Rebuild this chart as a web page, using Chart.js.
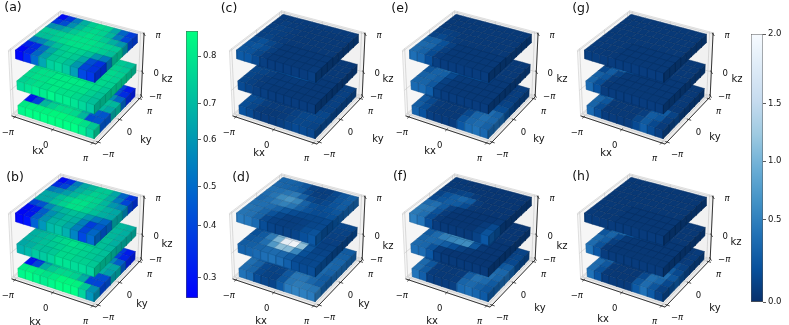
<!DOCTYPE html>
<html><head><meta charset="utf-8">
<style>html,body{margin:0;background:#fff}#fig{position:relative;width:789px;height:325px;overflow:hidden}canvas{position:absolute}</style>
<script src="https://cdn.jsdelivr.net/npm/chart.js@4"></script></head>
<body><div id="fig"></div>
<script>
// rows run from the back edge (ky = pi) to the front edge (ky = -pi), columns from kx = -pi to kx = pi
const aTop=[
[.28,.38,.55,.68,.75,.78,.76,.66,.5,.4],[.38,.44,.6,.7,.76,.78,.76,.7,.55,.42],[.6,.62,.68,.74,.78,.8,.78,.74,.68,.62],[.74,.74,.76,.78,.8,.8,.8,.78,.76,.74],
[.72,.72,.75,.78,.8,.8,.8,.78,.75,.72],[.55,.58,.66,.72,.76,.78,.76,.72,.62,.55],[.33,.36,.52,.66,.74,.76,.74,.66,.44,.37],[.27,.35,.5,.64,.73,.75,.72,.62,.42,.38]];
const aMid=[
[.72,.74,.76,.78,.78,.78,.78,.76,.74,.72],[.74,.76,.78,.78,.8,.8,.78,.78,.76,.74],[.76,.78,.78,.8,.8,.8,.8,.78,.78,.76],[.78,.78,.8,.82,.82,.82,.82,.8,.78,.76],
[.78,.8,.8,.82,.82,.82,.82,.8,.78,.76],[.78,.8,.8,.82,.82,.82,.82,.8,.78,.74],[.78,.8,.8,.82,.82,.82,.8,.8,.76,.73],[.76,.78,.8,.8,.82,.8,.8,.78,.75,.72]];
const aBot=[
[.42,.48,.6,.7,.74,.76,.7,.6,.42,.32],[.5,.55,.66,.72,.76,.76,.72,.62,.44,.36],[.62,.66,.7,.74,.78,.78,.74,.7,.6,.5],[.72,.72,.74,.76,.78,.78,.76,.74,.72,.7],
[.58,.62,.7,.74,.76,.78,.76,.74,.7,.66],[.28,.4,.62,.72,.76,.78,.76,.66,.48,.46],[.3,.42,.7,.76,.8,.8,.78,.7,.44,.46],[.82,.84,.84,.84,.85,.85,.84,.84,.8,.74]];
const bTop=[
[.28,.36,.55,.66,.7,.74,.74,.66,.5,.38],[.36,.42,.58,.68,.72,.76,.74,.68,.55,.42],[.55,.58,.64,.7,.76,.78,.76,.7,.62,.58],[.66,.66,.72,.76,.8,.8,.76,.72,.68,.66],
[.66,.66,.72,.76,.8,.8,.76,.72,.68,.66],[.42,.46,.58,.66,.7,.72,.7,.62,.55,.5],[.28,.32,.48,.6,.66,.7,.68,.56,.4,.46],[.27,.3,.48,.6,.68,.7,.66,.56,.42,.5]];
const bMid=[
[.68,.7,.72,.74,.74,.74,.74,.72,.7,.68],[.68,.7,.72,.74,.76,.76,.74,.72,.7,.68],[.68,.7,.74,.76,.78,.78,.76,.74,.7,.68],[.68,.7,.74,.78,.8,.8,.78,.74,.72,.68],
[.68,.7,.74,.78,.8,.8,.78,.76,.72,.7],[.68,.7,.72,.76,.78,.8,.78,.76,.74,.72],[.68,.7,.72,.74,.76,.78,.78,.76,.74,.72],[.66,.68,.72,.72,.74,.78,.78,.76,.76,.74]];
const bBot=[
[.42,.46,.58,.66,.7,.72,.68,.58,.4,.32],[.48,.52,.62,.68,.72,.72,.7,.6,.42,.34],[.6,.62,.68,.72,.74,.76,.72,.68,.58,.48],[.68,.7,.72,.74,.76,.76,.74,.72,.68,.66],
[.56,.6,.68,.72,.74,.76,.74,.72,.68,.64],[.27,.36,.6,.7,.74,.76,.74,.64,.44,.44],[.3,.42,.68,.74,.78,.78,.76,.68,.42,.42],[.82,.84,.82,.8,.82,.85,.85,.84,.74,.6]];
const cTop=[
[.1,.1,.1,.1,.1,.1,.1,.1,.1,.1],[.1,.12,.1,.1,.08,.08,.08,.08,.08,.1],[.12,.14,.12,.1,.08,.08,.08,.08,.08,.08],[.14,.14,.12,.1,.08,.08,.08,.08,.08,.08],
[.14,.16,.12,.1,.08,.08,.08,.08,.08,.08],[.22,.26,.18,.12,.08,.08,.08,.08,.08,.08],[.28,.3,.22,.12,.08,.08,.08,.08,.08,.08],[.3,.28,.18,.1,.08,.08,.08,.08,.08,.1]];
const cMid=[
[.08,.08,.1,.1,.1,.1,.1,.08,.08,.08],[.08,.1,.12,.12,.12,.12,.1,.08,.08,.08],[.1,.12,.14,.16,.14,.12,.1,.08,.08,.08],[.12,.18,.2,.22,.24,.26,.22,.12,.08,.08],
[.12,.18,.18,.18,.24,.28,.22,.12,.08,.08],[.18,.16,.12,.1,.1,.1,.1,.08,.08,.08],[.18,.14,.1,.1,.1,.1,.08,.08,.08,.08],[.18,.14,.1,.1,.08,.08,.08,.08,.08,.08]];
const cBot=[
[.12,.12,.1,.1,.1,.1,.1,.1,.12,.14],[.12,.12,.1,.1,.1,.1,.1,.1,.12,.14],[.12,.12,.1,.1,.1,.1,.1,.1,.12,.14],[.18,.22,.16,.12,.1,.1,.1,.1,.12,.14],
[.18,.24,.16,.12,.1,.1,.1,.1,.12,.14],[.22,.18,.12,.1,.1,.1,.12,.16,.18,.18],[.24,.2,.12,.1,.1,.1,.14,.18,.2,.18],[.24,.18,.1,.08,.08,.1,.14,.18,.18,.16]];
const dTop=[
[.42,.42,.38,.3,.15,.12,.12,.2,.3,.38],[.45,.42,.4,.35,.2,.12,.12,.18,.3,.36],[.5,.5,.55,.6,.4,.2,.15,.2,.28,.35],[.48,.55,.72,.8,.68,.4,.25,.22,.25,.3],
[.45,.5,.6,.65,.55,.38,.28,.22,.22,.25],[.5,.5,.48,.4,.3,.22,.18,.18,.18,.2],[.55,.52,.42,.28,.18,.12,.12,.14,.18,.2],[.55,.52,.42,.2,.14,.12,.12,.14,.22,.28]];
const dMid=[
[.3,.3,.35,.4,.4,.35,.25,.2,.18,.18],[.3,.32,.4,.5,.55,.45,.25,.18,.15,.15],[.28,.35,.45,.6,.7,.5,.25,.15,.14,.14],[.25,.35,.55,.8,1.1,1.0,.5,.2,.13,.13],
[.24,.32,.6,1.1,1.6,1.7,1.0,.25,.14,.15],[.26,.34,.6,1.1,1.9,2,1.2,.3,.16,.17],[.32,.36,.5,.85,1.2,1.15,.7,.25,.18,.2],[.36,.38,.42,.46,.48,.44,.34,.2,.18,.2]];
const dBot=[
[.3,.3,.3,.3,.3,.3,.3,.3,.35,.35],[.32,.32,.32,.32,.32,.32,.32,.34,.38,.38],[.34,.34,.34,.34,.34,.34,.36,.4,.42,.42],[.4,.38,.32,.28,.28,.32,.42,.48,.46,.42],
[.42,.38,.28,.24,.24,.3,.46,.5,.46,.4],[.48,.34,.2,.16,.18,.3,.54,.54,.42,.34],[.5,.4,.2,.15,.16,.32,.56,.56,.44,.36],[.48,.42,.2,.15,.14,.3,.55,.6,.58,.55]];
const eTop=[
[.08,.08,.08,.08,.08,.08,.08,.08,.08,.08],[.08,.08,.08,.08,.08,.08,.08,.08,.08,.08],[.08,.08,.08,.08,.08,.08,.08,.08,.08,.08],[.12,.14,.12,.08,.08,.08,.08,.08,.08,.08],
[.16,.2,.14,.1,.08,.08,.08,.08,.08,.08],[.38,.4,.26,.14,.08,.08,.08,.08,.08,.08],[.46,.44,.26,.12,.08,.08,.08,.08,.08,.08],[.46,.4,.22,.1,.08,.08,.08,.08,.08,.08]];
const eMid=[
[.08,.08,.08,.08,.08,.08,.08,.08,.08,.08],[.08,.1,.1,.1,.08,.08,.08,.08,.08,.08],[.1,.14,.16,.14,.1,.08,.08,.08,.08,.08],[.2,.42,.5,.38,.2,.14,.14,.1,.08,.08],
[.22,.44,.5,.34,.2,.2,.22,.14,.08,.08],[.3,.4,.38,.2,.1,.1,.08,.08,.08,.08],[.4,.42,.36,.14,.08,.08,.08,.08,.08,.08],[.42,.42,.32,.12,.08,.08,.08,.08,.08,.08]];
const eBot=[
[.08,.08,.08,.08,.08,.08,.08,.08,.1,.12],[.08,.08,.08,.08,.08,.08,.08,.08,.1,.12],[.08,.08,.08,.08,.08,.08,.08,.08,.1,.12],[.1,.1,.1,.08,.08,.08,.08,.1,.14,.16],
[.12,.1,.1,.08,.08,.08,.1,.16,.22,.22],[.2,.14,.1,.08,.08,.08,.16,.38,.48,.4],[.32,.2,.1,.08,.08,.08,.2,.42,.5,.44],[.36,.24,.1,.08,.08,.08,.28,.44,.48,.4]];
const fTop=[
[.08,.08,.06,.06,.06,.06,.06,.06,.06,.06],[.08,.08,.08,.06,.06,.06,.06,.06,.06,.06],[.1,.12,.16,.18,.1,.06,.06,.06,.06,.06],[.16,.26,.36,.42,.34,.1,.06,.06,.06,.06],
[.2,.3,.36,.34,.22,.08,.06,.06,.06,.06],[.46,.5,.34,.14,.08,.06,.06,.06,.06,.08],[.58,.56,.28,.1,.06,.06,.06,.06,.1,.2],[.58,.5,.22,.08,.06,.06,.06,.06,.12,.28]];
const fMid=[
[.06,.06,.06,.06,.06,.06,.06,.06,.06,.06],[.08,.1,.12,.12,.1,.08,.06,.06,.06,.06],[.12,.22,.3,.32,.24,.14,.08,.06,.06,.06],[.2,.34,.5,.58,.56,.42,.16,.06,.06,.06],
[.28,.44,.66,.76,.74,.72,.32,.08,.06,.06],[.34,.46,.62,.68,.72,.74,.3,.08,.06,.06],[.42,.46,.44,.36,.24,.14,.08,.06,.06,.06],[.46,.44,.28,.1,.06,.06,.06,.06,.06,.06]];
const fBot=[
[.08,.08,.08,.08,.08,.08,.08,.1,.14,.16],[.08,.08,.08,.08,.08,.08,.08,.1,.14,.18],[.08,.08,.08,.08,.08,.08,.08,.12,.16,.2],[.12,.1,.08,.08,.08,.08,.1,.18,.3,.36],
[.14,.1,.08,.08,.08,.08,.14,.3,.46,.44],[.26,.16,.08,.08,.08,.1,.3,.5,.52,.42],[.46,.3,.1,.08,.08,.1,.36,.52,.46,.34],[.5,.34,.1,.08,.08,.1,.42,.46,.38,.3]];
const gTop=[
[.08,.08,.08,.08,.08,.08,.08,.08,.08,.08],[.08,.08,.08,.08,.08,.08,.08,.08,.08,.08],[.08,.08,.08,.08,.08,.08,.08,.08,.08,.08],[.08,.08,.08,.08,.08,.08,.08,.08,.08,.08],
[.08,.08,.08,.08,.08,.08,.08,.08,.08,.08],[.09,.09,.08,.08,.08,.08,.08,.08,.08,.08],[.1,.09,.08,.08,.08,.08,.08,.08,.08,.08],[.1,.09,.08,.08,.08,.08,.08,.08,.08,.08]];
const gMid=[
[.08,.08,.08,.08,.08,.08,.08,.08,.08,.08],[.08,.08,.08,.08,.08,.08,.08,.08,.08,.08],[.08,.1,.14,.16,.12,.08,.08,.08,.08,.08],[.08,.22,.5,.3,.12,.08,.08,.08,.08,.08],
[.1,.3,.44,.18,.1,.08,.08,.08,.08,.08],[.2,.36,.16,.08,.08,.08,.08,.08,.08,.08],[.38,.3,.1,.08,.08,.08,.08,.08,.08,.08],[.42,.24,.08,.08,.08,.08,.08,.08,.08,.08]];
const gBot=[
[.08,.08,.08,.08,.08,.08,.08,.08,.08,.08],[.08,.08,.08,.08,.08,.08,.08,.08,.08,.08],[.08,.08,.08,.08,.08,.08,.08,.08,.08,.08],[.08,.18,.36,.42,.42,.36,.24,.14,.1,.08],
[.1,.32,.46,.36,.3,.24,.16,.1,.08,.08],[.26,.4,.12,.08,.08,.08,.1,.3,.34,.16],[.42,.3,.08,.08,.08,.08,.12,.36,.3,.12],[.42,.22,.08,.08,.08,.08,.18,.34,.2,.1]];
const hTop=[
[.07,.07,.07,.07,.07,.07,.07,.07,.07,.07],[.07,.07,.07,.07,.07,.07,.07,.07,.07,.07],[.07,.07,.07,.07,.07,.07,.07,.07,.07,.07],[.07,.07,.07,.07,.07,.07,.07,.07,.07,.07],
[.07,.07,.07,.07,.07,.07,.07,.07,.07,.07],[.08,.08,.07,.07,.07,.07,.07,.07,.07,.07],[.09,.08,.07,.07,.07,.07,.07,.07,.07,.07],[.09,.08,.07,.07,.07,.07,.07,.07,.07,.07]];
const hMid=[
[.07,.07,.07,.07,.07,.07,.07,.07,.07,.07],[.07,.08,.1,.1,.08,.07,.07,.07,.07,.07],[.08,.12,.24,.3,.2,.1,.07,.07,.07,.07],[.12,.34,.56,.44,.28,.12,.07,.07,.07,.07],
[.14,.42,.5,.28,.14,.08,.07,.07,.07,.07],[.3,.42,.2,.08,.07,.07,.07,.07,.07,.07],[.46,.36,.12,.07,.07,.07,.07,.07,.07,.07],[.48,.28,.08,.07,.07,.07,.07,.07,.07,.07]];
const hBot=[
[.07,.07,.07,.07,.07,.07,.07,.07,.07,.1],[.07,.07,.07,.07,.07,.07,.07,.07,.08,.1],[.07,.07,.07,.07,.07,.07,.07,.07,.08,.1],[.08,.24,.44,.5,.5,.46,.4,.3,.2,.14],
[.12,.36,.5,.38,.34,.34,.32,.34,.34,.2],[.3,.42,.14,.07,.07,.07,.14,.44,.5,.3],[.46,.32,.08,.07,.07,.07,.2,.5,.42,.2],[.48,.26,.08,.07,.07,.07,.3,.48,.3,.14]];

const winterStops=['#0000ff','#00ff80'];
const blueStops=['#08306b','#08519c','#2171b5','#4292c6','#6baed6','#9ecae1','#c6dbef','#deebf7','#f7fbff'];
const winterRange=[.255,.856];
const blueRange=[0,2];
// the colour bars in the picture have unevenly spaced ticks, so each label has its own height on the bar (0 bottom, 1 top)
const winterTicks=['0.3','0.4','0.5','0.6','0.7','0.8'];
const winterTickAt=[.075,.27,.416,.592,.727,.906];
const blueTicks=['0.0','0.5','1.0','1.5','2.0'];
const blueTickAt=[0,.306,.526,.739,1];
const tickNames=['\u2212\u03c0','0','\u03c0'];
const kTicks=[.04,.5,.96];
const zTicks=[.02,.4,.98];
const zSlabs=[[.02,.15],[.40,.53],[.86,.99]];

// dx, dy shift the whole panel, the name and axis titles are placed in panel pixels
const panels=[
{name:'(a)',dx:0,dy:0,nameAt:[13,8],kx:[38,151],ky:[146,140],kz:[167,79],map:'w',layers:[aBot,aMid,aTop]},
{name:'(b)',dx:0,dy:163,nameAt:[15,15],kx:[35,159],ky:[142,141],kz:[167,81],map:'w',layers:[bBot,bMid,bTop]},
{name:'(c)',dx:220.5,dy:0,nameAt:[8,9],kx:[38,153],ky:[157,139],kz:[167,79],map:'b',layers:[cBot,cMid,cTop]},
{name:'(d)',dx:220.5,dy:163,nameAt:[20,15],kx:[40,158],ky:[143,141],kz:[167,83],map:'b',layers:[dBot,dMid,dTop]},
{name:'(e)',dx:394,dy:0,nameAt:[6,9],kx:[36,151],ky:[145,139],kz:[168,79],map:'b',layers:[eBot,eMid,eTop]},
{name:'(f)',dx:394,dy:163,nameAt:[6,14],kx:[38,158],ky:[146,145],kz:[168,83],map:'b',layers:[fBot,fMid,fTop]},
{name:'(g)',dx:569,dy:0,nameAt:[12,9],kx:[37,153],ky:[146,137],kz:[168,79],map:'b',layers:[gBot,gMid,gTop]},
{name:'(h)',dx:569,dy:163,nameAt:[12,14],kx:[34,156],ky:[146,145],kz:[167,79],map:'b',layers:[hBot,hMid,hTop]},
];

const K=97,el=31*Math.PI/180,az=-60*Math.PI/180,dist=8.75,M=.05,ZH=.78,CX=77.5,CY=74.5;
const FONT='"DejaVu Sans"';
function proj(x,y,z){
  const px=x-.5,py=y-.5,pz=(z-.5)*ZH;
  const u=[-Math.sin(az),Math.cos(az)],v=[-Math.cos(az)*Math.sin(el),-Math.sin(az)*Math.sin(el),Math.cos(el)],w=[Math.cos(az)*Math.cos(el),Math.sin(az)*Math.cos(el),Math.sin(el)];
  const d=dist-(px*w[0]+py*w[1]+pz*w[2]);
  return {x:(px*u[0]+py*u[1])*dist/d,y:(px*v[0]+py*v[1]+pz*v[2])*dist/d};
}
function hex(h){return [1,3,5].map(i=>parseInt(h.slice(i,i+2),16));}
function cmap(stops,range,v){
  const t=Math.min(1,Math.max(0,(v-range[0])/(range[1]-range[0])))*(stops.length-1),i=Math.min(stops.length-2,Math.floor(t)),a=hex(stops[i]),b=hex(stops[i+1]);
  return a.map((c,k)=>c+(b[k]-c)*(t-i));
}
function css(c,f){return `rgb(${c.map(a=>Math.min(255,Math.round(a*f))).join(',')})`;}
function poly(ds,pts,c,f){ds.push({data:[...pts.map(p=>proj(...p)),proj(...pts[0])],showLine:true,pointRadius:0,borderWidth:.5,fill:'shape',backgroundColor:css(c,f),borderColor:css(c,f*.84)});}
function seg(ds,a,b,color,w){ds.push({data:[proj(...a),proj(...b)],showLine:true,pointRadius:0,borderWidth:w,borderColor:color,fill:false});}

function buildPanel(p){
  const ds=[];
  poly(ds,[[0,0,0],[1,0,0],[1,1,0],[0,1,0]],[236,236,236],1);
  poly(ds,[[0,0,0],[0,1,0],[0,1,1],[0,0,1]],[246,246,246],1);
  poly(ds,[[0,1,0],[1,1,0],[1,1,1],[0,1,1]],[241,241,241],1);
  ds.forEach(d=>{d.borderColor='#d8d8d8';d.borderWidth=.8;});
  const grid='#c4c4c4';
  kTicks.forEach(f=>{
    seg(ds,[f,0,0],[f,1,0],grid,.6);seg(ds,[f,1,0],[f,1,1],grid,.6);
    seg(ds,[0,f,0],[1,f,0],grid,.6);seg(ds,[0,f,0],[0,f,1],grid,.6);
  });
  zTicks.forEach(f=>{seg(ds,[0,0,f],[0,1,f],grid,.6);seg(ds,[0,1,f],[1,1,f],grid,.6);});
  seg(ds,[0,0,0],[1,0,0],'#222',.9);seg(ds,[1,0,0],[1,1,0],'#222',.9);seg(ds,[1,1,0],[1,1,1],'#222',.9);
  kTicks.forEach(f=>{seg(ds,[f,-.03,0],[f,.02,0],'#222',.8);seg(ds,[1.03,f,0],[.98,f,0],'#222',.8);});
  zTicks.forEach(f=>seg(ds,[1.03,.97,f],[.98,1.02,f],'#222',.8));
  const stops=p.map=='w'?winterStops:blueStops,range=p.map=='w'?winterRange:blueRange;
  p.layers.forEach((layer,k)=>{
    const [z0,z1]=zSlabs[k],ny=layer.length,nx=layer[0].length;
    const X=i=>M+(1-2*M)*i/nx,Y=j=>M+(1-2*M)*j/ny;
    for(let j=ny-1;j>=0;j--)for(let i=0;i<nx;i++){
      const c=cmap(stops,range,layer[ny-1-j][i]);
      poly(ds,[[X(i),Y(j),z1],[X(i+1),Y(j),z1],[X(i+1),Y(j+1),z1],[X(i),Y(j+1),z1]],c,.97);
      if(j==0)poly(ds,[[X(i),Y(0),z0],[X(i+1),Y(0),z0],[X(i+1),Y(0),z1],[X(i),Y(0),z1]],c,1.03);
      if(i==nx-1)poly(ds,[[X(nx),Y(j),z0],[X(nx),Y(j+1),z0],[X(nx),Y(j+1),z1],[X(nx),Y(j),z1]],c,.8);
    }
  });
  return ds;
}

const W=190,H=162,PAD=6;
const textPlugin={id:'labels',afterDraw(chart,args,opts){
  const ctx=chart.ctx,p=opts.panel,sx=chart.scales.x,sy=chart.scales.y;
  const at=(a,dx,dy)=>{const q=proj(...a);return [sx.getPixelForValue(q.x)+dx,sy.getPixelForValue(q.y)+dy];};
  const put=(t,x,y,size,style)=>{ctx.font=`${style||''} ${size}px ${FONT}`;ctx.fillText(t,x,y);};
  ctx.save();ctx.fillStyle='#111';ctx.textAlign='center';ctx.textBaseline='middle';
  tickNames.forEach((t,i)=>{
    const st=i==1?'':'italic';
    put(t,...at([kTicks[i],0,0],-7,16),8.5,st);
    put(t,...at([1,kTicks[i],0],10,13),8.5,st);
    put(t,...at([1,1,zTicks[i]],14,1.5),8.5,st);
  });
  put('kx',p.kx[0]+PAD,p.kx[1],10);put('ky',p.ky[0]+PAD,p.ky[1],10);put('kz',p.kz[0]+PAD,p.kz[1],10);
  put(p.name,p.nameAt[0]+PAD,p.nameAt[1],12.5);
  ctx.restore();
}};
const fig=document.getElementById('fig');
function addCanvas(l,t,w,h){const cv=document.createElement('canvas');cv.width=w;cv.height=h;cv.style.left=l+'px';cv.style.top=t+'px';fig.appendChild(cv);return cv;}
panels.forEach(p=>{
  const cv=addCanvas(p.dx-PAD,p.dy,W,H),cx=CX+PAD,cy=CY;
  new Chart(cv,{type:'scatter',data:{datasets:buildPanel(p).reverse()},plugins:[textPlugin],options:{responsive:false,animation:false,events:[],layout:{padding:0},
    plugins:{legend:{display:false},tooltip:{enabled:false},labels:{panel:p}},
    scales:{x:{type:'linear',display:false,min:-cx/K,max:(W-cx)/K},y:{type:'linear',display:false,min:-(H-cy)/K,max:cy/K}}}});
});
function colorbar(left,top,height,names,tickAt,stops){
  const cv=addCanvas(left-6,top-10,46,height+20);
  new Chart(cv,{type:'bar',data:{labels:[''],datasets:[{data:[[0,1]],barPercentage:1,categoryPercentage:1,borderSkipped:false,borderWidth:.8,borderColor:'#555',
    backgroundColor(c){const a=c.chart.chartArea;if(!a)return stops[0];const g=c.chart.ctx.createLinearGradient(0,a.bottom,0,a.top);stops.forEach((s,i)=>g.addColorStop(i/(stops.length-1),s));return g;}}]},
    options:{responsive:false,animation:false,events:[],layout:{padding:{left:6,top:10,bottom:10,right:0}},plugins:{legend:{display:false},tooltip:{enabled:false}},
    scales:{x:{display:false},y:{position:'right',min:0,max:1,border:{display:false},
      grid:{drawOnChartArea:false,tickLength:3,color:'#333',lineWidth:.8},
      afterBuildTicks(s){s.ticks=tickAt.map(v=>({value:v}));},afterFit(s){s.width=28;},
      ticks:{padding:2,color:'#111',font:{family:'DejaVu Sans',size:8.5},autoSkip:false,maxRotation:0,callback:(v,i)=>names[i]}}}}});
}
colorbar(186,31,267,winterTicks,winterTickAt,winterStops);
colorbar(751,34,268,blueTicks,blueTickAt,blueStops);
</script></body></html>
